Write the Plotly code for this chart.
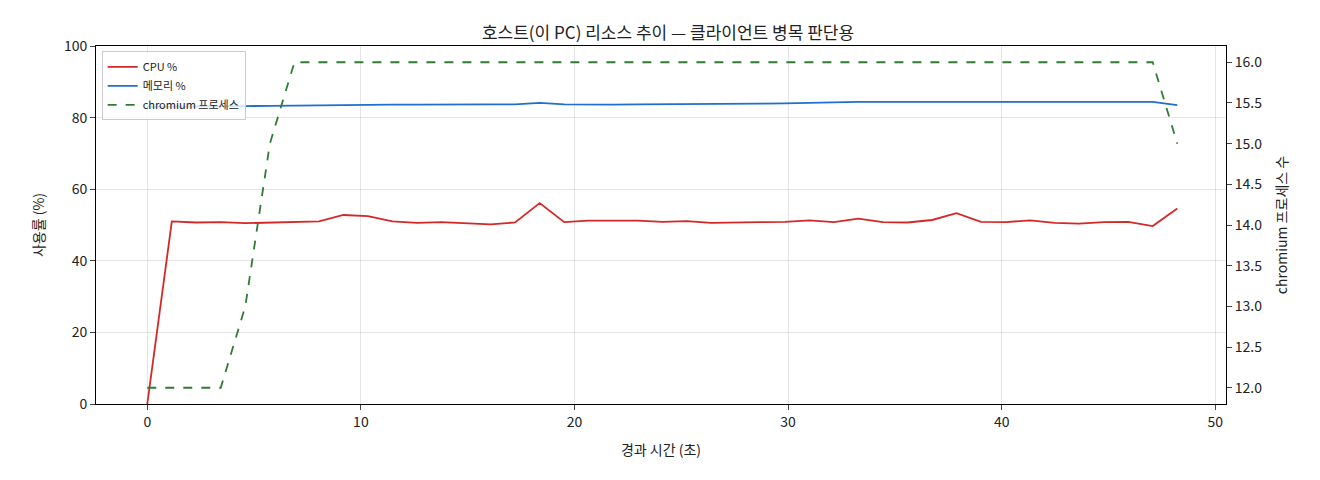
import plotly.graph_objects as go

t = [0.0, 1.15, 2.3, 3.44, 4.59, 5.74, 6.89, 8.04, 9.18, 10.33, 11.48, 12.63, 13.78, 14.92,
     16.07, 17.22, 18.37, 19.52, 20.66, 21.81, 22.96, 24.11, 25.26, 26.4, 27.55, 28.7, 29.85,
     31.0, 32.14, 33.29, 34.44, 35.59, 36.74, 37.88, 39.03, 40.18, 41.33, 42.48, 43.62, 44.77,
     45.92, 47.07, 48.22]
cpu = [0, 51.0, 50.7, 50.8, 50.5, 50.7, 50.7, 51.0, 52.8, 52.5, 51.0, 50.6, 50.8, 50.6, 50.2,
       50.7, 56.1, 50.8, 51.2, 51.2, 51.2, 50.9, 51.1, 50.6, 50.6, 50.8, 50.9, 51.3, 50.8, 51.8,
       50.8, 50.7, 51.4, 53.3, 50.9, 50.8, 51.3, 50.6, 50.4, 50.8, 50.9, 49.7, 54.6]
mem = [83.0, 83.0, 83.1, 83.1, 83.2, 83.3, 83.4, 83.5, 83.5, 83.6, 83.6, 83.6, 83.7, 83.7, 83.7,
       83.7, 84.1, 83.7, 83.6, 83.6, 83.7, 83.7, 83.8, 83.8, 83.9, 83.9, 84.0, 84.2, 84.2, 84.4,
       84.4, 84.4, 84.4, 84.4, 84.5, 84.4, 84.4, 84.4, 84.4, 84.4, 84.4, 84.4, 83.5]
procs = [12, 12, 12, 12, 13, 15, 16, 16, 16, 16, 16, 16, 16, 16, 16, 16, 16, 16, 16, 16, 16, 16,
         16, 16, 16, 16, 16, 16, 16, 16, 16, 16, 16, 16, 16, 16, 16, 16, 16, 16, 16, 16, 15]

font = "Noto Sans CJK KR"
fig = go.Figure()
fig.add_trace(go.Scatter(x=t, y=cpu, name="CPU %", mode="lines",
                         line=dict(color="#d62728", width=1.8)))
fig.add_trace(go.Scatter(x=t, y=mem, name="메모리 %", mode="lines",
                         line=dict(color="#1f6fd1", width=1.8)))
fig.add_trace(go.Scatter(x=t, y=procs, name="chromium 프로세스", mode="lines", yaxis="y2",
                         line=dict(color="#2e7d32", width=1.8, dash="dash")))

ax = dict(showline=True, linecolor="black", linewidth=1, mirror=False, ticks="outside",
          gridcolor="rgba(0,0,0,0.1)", zeroline=False, tickfont=dict(size=14, color="#222"))
fig.update_layout(
    width=1320, height=480, plot_bgcolor="white", paper_bgcolor="white",
    font=dict(family=font, color="#222"),
    title=dict(text="호스트(이 PC) 리소스 추이 — 클라이언트 병목 판단용", x=0.5, y=0.96,
               font=dict(size=17)),
    margin=dict(l=88, r=102, t=38, b=84),
    xaxis=dict(ax, range=[-2.4, 50.5], dtick=10, mirror=True,
               title=dict(text="경과 시간 (초)", font=dict(size=14))),
    yaxis=dict(ax, range=[0, 100], dtick=20,
               title=dict(text="사용률 (%)", font=dict(size=14))),
    yaxis2=dict(ax, overlaying="y", side="right", range=[11.8, 16.2], dtick=0.5,
                tickformat=".1f", showgrid=False,
                title=dict(text="chromium 프로세스 수", font=dict(size=14))),
    legend=dict(x=0.005, y=0.985, bgcolor="rgba(255,255,255,0.8)", bordercolor="#ccc",
                borderwidth=1, font=dict(size=11)),
)
fig.write_html("out.html")
